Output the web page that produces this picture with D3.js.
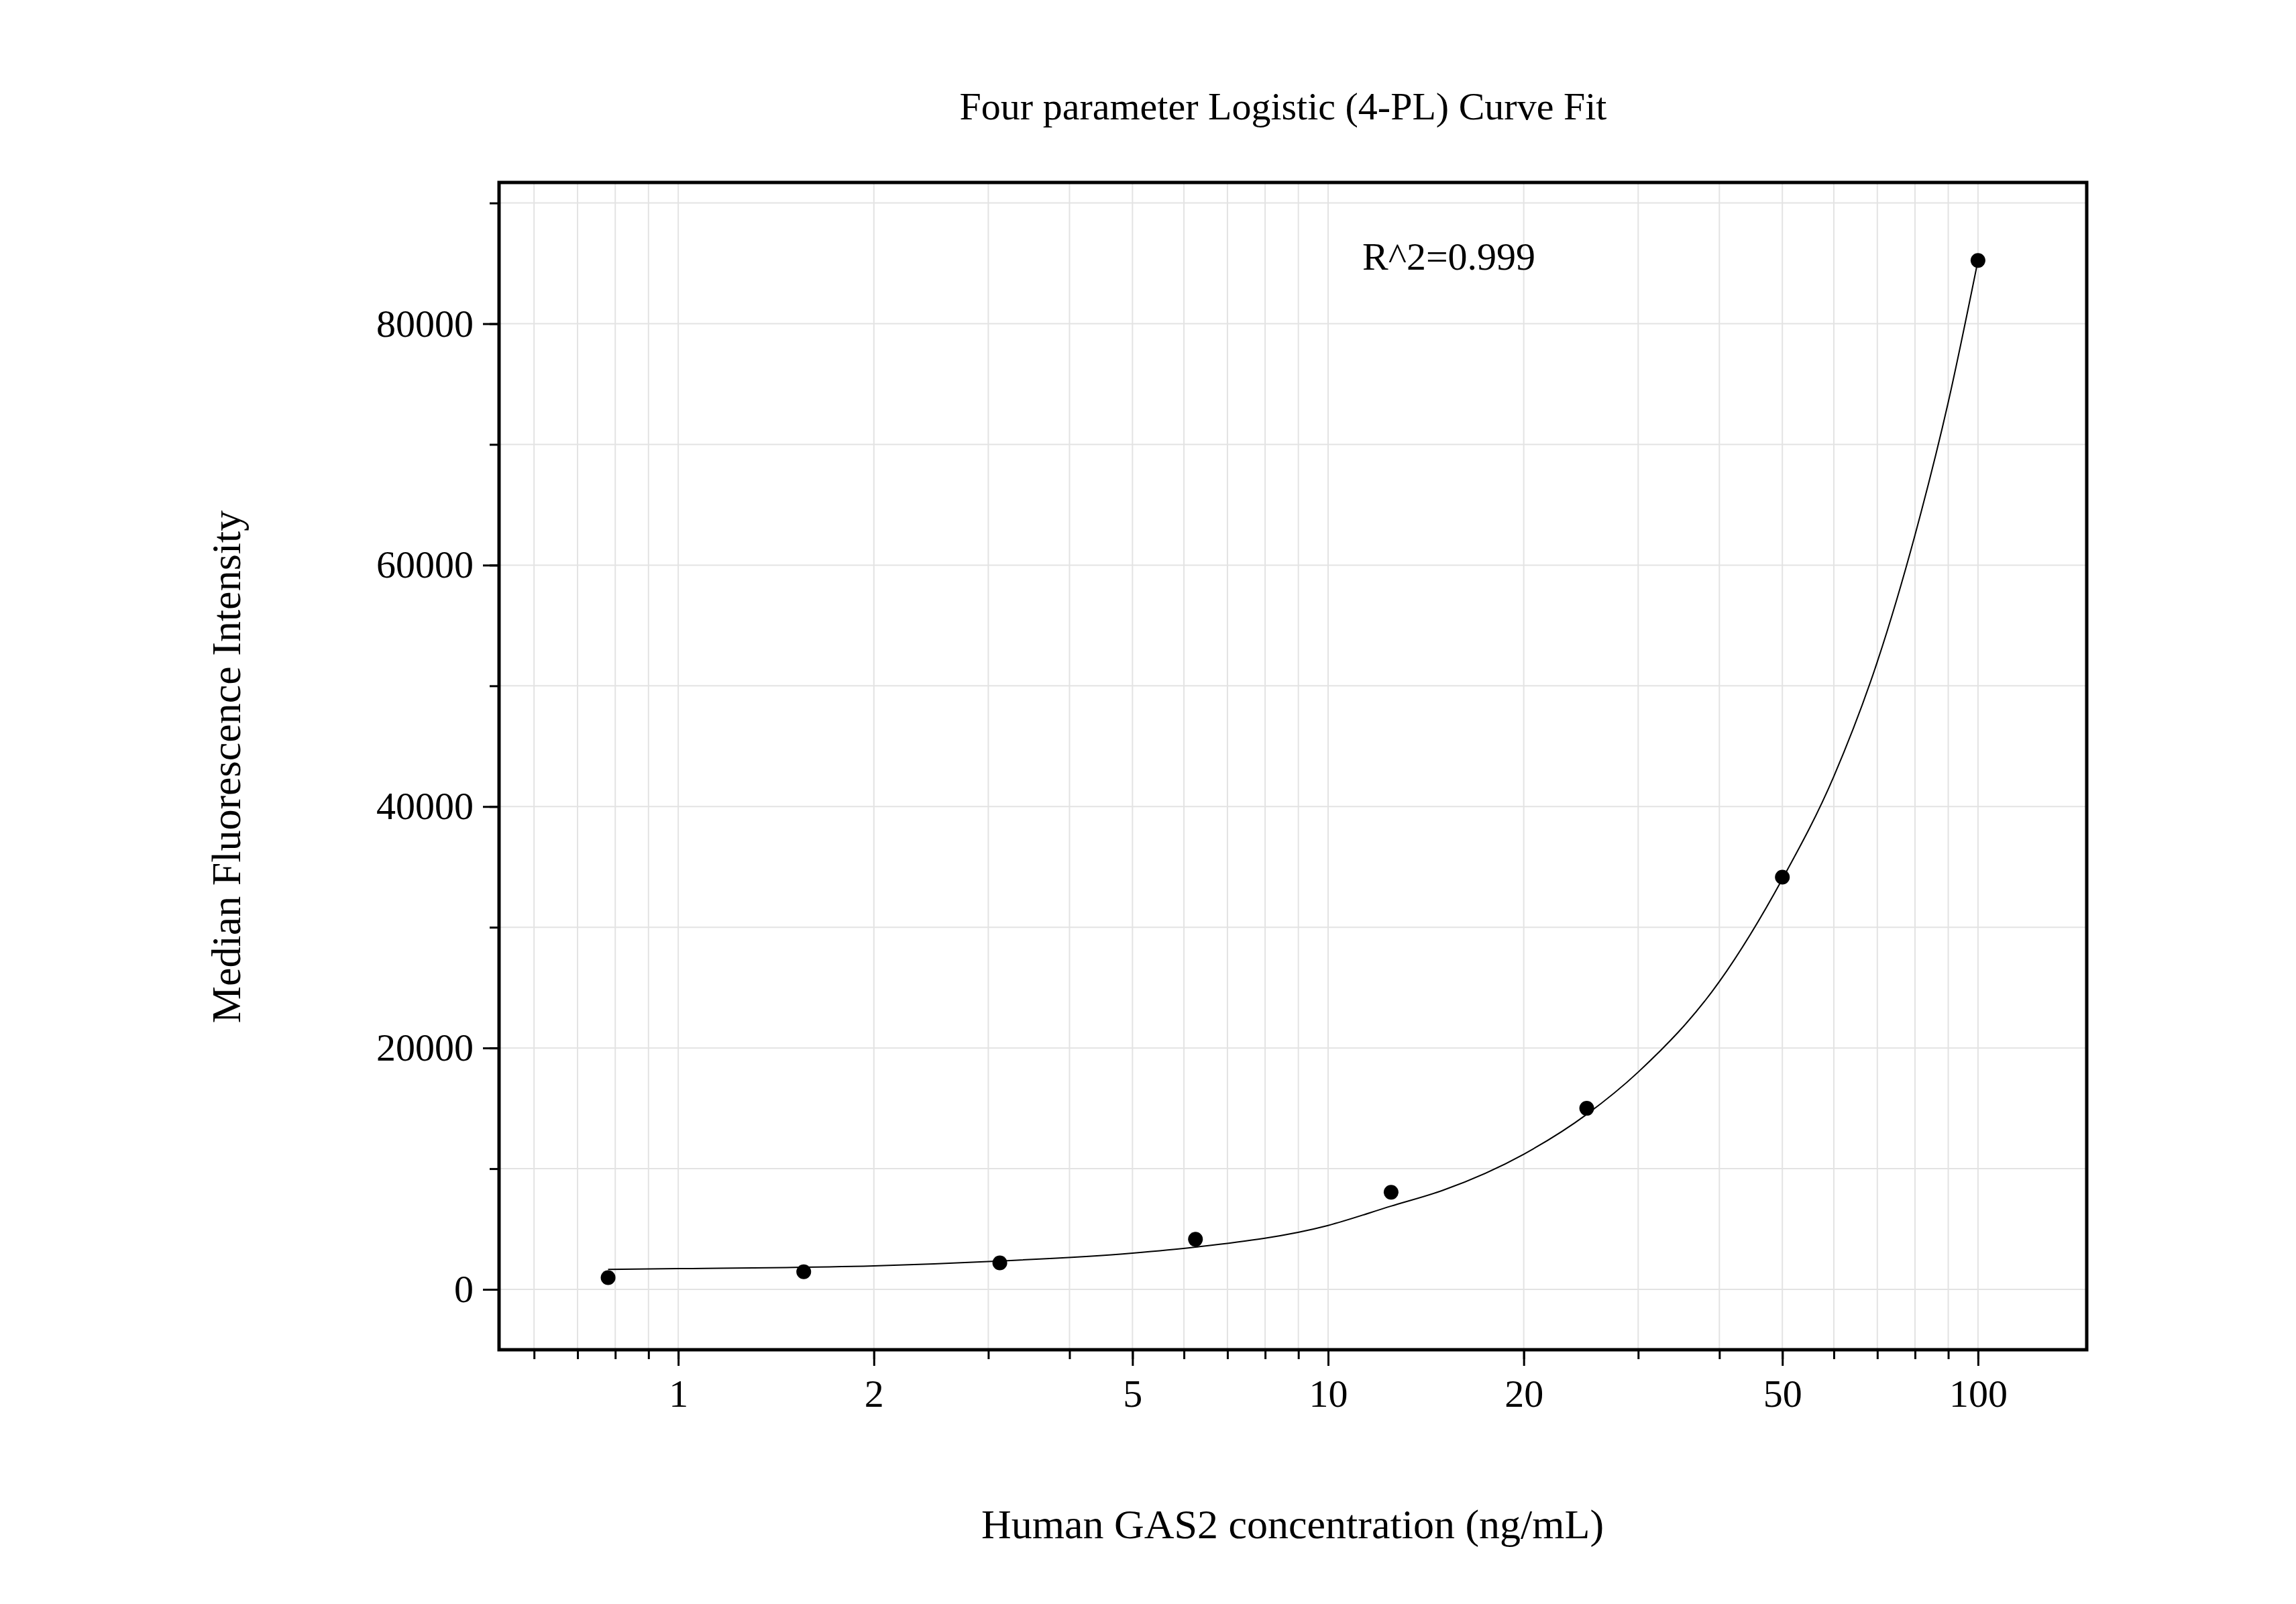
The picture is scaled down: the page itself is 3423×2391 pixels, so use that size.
<!DOCTYPE html>
<html><head><meta charset="utf-8">
<script src="https://cdn.jsdelivr.net/npm/d3@7"></script>
<style>body{margin:0;background:#fff}text{font-family:"Liberation Serif","Times New Roman",serif;fill:#000}</style>
</head><body><svg id="c" width="3423" height="2391"></svg>
<script>
const conc = [0.78, 1.56, 3.125, 6.25, 12.5, 25, 50, 100];
const mfi = [975, 1460, 2200, 4150, 8050, 15000, 34150, 85240];
const curveX = [0.78, 1, 2, 3.125, 5, 6.25, 10, 12.5, 15, 20, 25, 30, 40, 50, 60, 70, 80, 90, 100];
const curveY = [1650, 1720, 1950, 2350, 3000, 3500, 5300, 6900, 8200, 11200, 14500, 18000, 25500, 34000, 42500, 52000, 62500, 73500, 85240];
const xTickLabels = [1, 2, 5, 10, 20, 50, 100];
const yTickLabels = [0, 20000, 40000, 60000, 80000];

const svg = d3.select("#c");
const L=744, R=3111, T=272, B=2012;
const x = d3.scaleLog().domain([0.53, 147]).range([L, R]);
const y = d3.scaleLinear().domain([-5000, 91700]).range([B, T]);

const minorX = [];
for (let d of [0.1, 1, 10, 100]) for (let k=1;k<10;k++){const v=d*k; if(v>=0.53&&v<=147) minorX.push(v);}
const minorY = d3.range(0, 91000, 10000);

const g = svg.append("g");
g.selectAll(".gx").data(minorX).enter().append("line")
 .attr("x1",d=>x(d)).attr("x2",d=>x(d)).attr("y1",T).attr("y2",B)
 .attr("stroke","#e3e3e3").attr("stroke-width",2);
g.selectAll(".gy").data(minorY).enter().append("line")
 .attr("x1",L).attr("x2",R).attr("y1",d=>y(d)).attr("y2",d=>y(d))
 .attr("stroke","#e3e3e3").attr("stroke-width",2);

const xAxis = svg.append("g").attr("transform",`translate(0,${B})`)
 .call(d3.axisBottom(x).tickValues(minorX).tickSize(14).tickFormat(""));
const xMaj = svg.append("g").attr("transform",`translate(0,${B})`)
 .call(d3.axisBottom(x).tickValues(xTickLabels).tickSize(24).tickPadding(20).tickFormat(d3.format("d")));
const yMin = svg.append("g").attr("transform",`translate(${L},0)`)
 .call(d3.axisLeft(y).tickValues(minorY).tickSize(14).tickFormat(""));
const yMaj = svg.append("g").attr("transform",`translate(${L},0)`)
 .call(d3.axisLeft(y).tickValues(yTickLabels).tickSize(24).tickPadding(14).tickFormat(d3.format("d")));
[xAxis,xMaj,yMin,yMaj].forEach(a=>{a.select(".domain").remove();a.selectAll("line").attr("stroke","#000").attr("stroke-width",3);
 a.selectAll("text").style("font-size","58px").style("font-family","Liberation Serif");});

svg.append("rect").attr("x",L).attr("y",T).attr("width",R-L).attr("height",B-T)
 .attr("fill","none").attr("stroke","#000").attr("stroke-width",5);

const line = d3.line().x((d,i)=>x(curveX[i])).y(d=>y(d)).curve(d3.curveMonotoneX);
svg.append("path").attr("d",line(curveY)).attr("fill","none").attr("stroke","#000").attr("stroke-width",2);

svg.selectAll(".pt").data(conc).enter().append("circle")
 .attr("cx",d=>x(d)).attr("cy",(d,i)=>y(mfi[i])).attr("r",11).attr("fill","#000");

svg.append("text").attr("x",1913).attr("y",178).attr("text-anchor","middle").style("font-size","58px").text("Four parameter Logistic (4-PL) Curve Fit");
svg.append("text").attr("x",2031).attr("y",402).style("font-size","58px").text("R^2=0.999");
svg.append("text").attr("x",1927).attr("y",2293).attr("text-anchor","middle").style("font-size","62px").text("Human GAS2 concentration (ng/mL)");
svg.append("text").attr("transform","translate(358,1143) rotate(-90)").attr("text-anchor","middle").style("font-size","62px").text("Median Fluorescence Intensity");
</script></body></html>
